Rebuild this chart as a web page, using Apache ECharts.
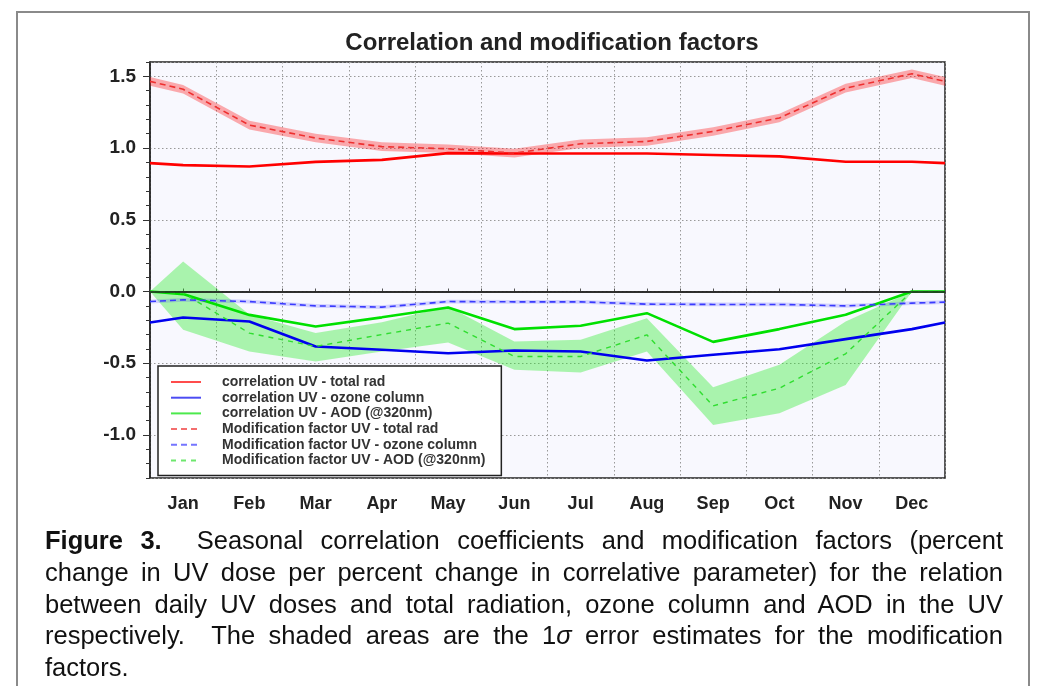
<!DOCTYPE html>
<html>
<head>
<meta charset="utf-8">
<script src="https://cdn.jsdelivr.net/npm/echarts@6.0.0/dist/echarts.min.js"></script>
<style>
  html, body { margin: 0; padding: 0; background: #fff; }
  #wrap { position: relative; width: 1044px; height: 686px; overflow: hidden; }
  #frame { position: absolute; left: 16px; top: 11px; width: 1014px; height: 720px;
           border: 2px solid #8a8a8a; box-sizing: border-box; }
  #chart { position: absolute; left: 0; top: 0; width: 1044px; height: 686px; }
  #cap { position: absolute; left: 45px; top: 525px; width: 958px; color: #111;
         font-family: "Liberation Sans", Arial, Helvetica, sans-serif; font-size: 25.5px; }
  #cap .ln { height: 31.8px; line-height: 31.8px; white-space: nowrap; }
  #cap .j { text-align: justify; text-align-last: justify; }
</style>
</head>
<body>
<div id="wrap">
  <div id="frame"></div>
  <div id="chart"></div>
  <div id="cap">
    <div class="ln j"><b>Figure 3.</b>&nbsp; Seasonal correlation coefficients and modification factors (percent</div>
    <div class="ln j">change in UV dose per percent change in correlative parameter) for the relation</div>
    <div class="ln j">between daily UV doses and total radiation, ozone column and AOD in the UV</div>
    <div class="ln j">respectively.&nbsp; The shaded areas are the 1<i>σ</i> error estimates for the modification</div>
    <div class="ln">factors.</div>
  </div>
</div>
<script>
// ---- data ----
const months = ['Jan','Feb','Mar','Apr','May','Jun','Jul','Aug','Sep','Oct','Nov','Dec'];
// month positions; the plot edges (0.5 and 12.5) carry the wrap-around values
const monthPos = [0.5, 1, 2, 3, 4, 5, 6, 7, 8, 9, 10, 11, 12, 12.5];

const corrTotalRad = [0.895, 0.881, 0.872, 0.904, 0.918, 0.965, 0.962, 0.962, 0.962, 0.952, 0.942, 0.905, 0.905, 0.895];
const corrOzone    = [-0.216, -0.181, -0.209, -0.383, -0.406, -0.430, -0.411, -0.418, -0.481, -0.441, -0.402, -0.332, -0.262, -0.216];
const corrAOD      = [0.000, -0.018, -0.163, -0.244, -0.180, -0.111, -0.262, -0.239, -0.151, -0.351, -0.262, -0.162, 0.000, 0.000];

const modTotalRad  = [1.465, 1.410, 1.160, 1.070, 1.010, 0.995, 0.965, 1.030, 1.046, 1.116, 1.210, 1.418, 1.518, 1.465];
const modOzone     = [-0.070, -0.058, -0.070, -0.100, -0.109, -0.070, -0.072, -0.072, -0.088, -0.090, -0.090, -0.100, -0.081, -0.074];
const modAOD       = [0.000, -0.011, -0.290, -0.383, -0.300, -0.220, -0.453, -0.453, -0.302, -0.797, -0.674, -0.434, 0.000, 0.000];

// 1-sigma error estimates
const errTotalRad  = [0.030, 0.030, 0.030, 0.030, 0.030, 0.030, 0.030, 0.030, 0.030, 0.030, 0.030, 0.030, 0.030, 0.030];
const errOzone     = [0.013, 0.013, 0.013, 0.013, 0.013, 0.013, 0.013, 0.013, 0.013, 0.013, 0.013, 0.013, 0.013, 0.013];
const aodUpper     = [0.000, 0.209, -0.160, -0.290, -0.215, -0.105, -0.349, -0.337, -0.186, -0.667, -0.511, -0.209, 0.000, 0.000];
const aodLower     = [0.000, -0.267, -0.418, -0.488, -0.418, -0.356, -0.546, -0.565, -0.418, -0.930, -0.848, -0.651, 0.000, 0.000];

const yTicks = [-1.0, -0.5, 0.0, 0.5, 1.0, 1.5];

// ---- helpers ----
const pairs = arr => monthPos.map((x, i) => [x, arr[i]]);

// shaded error band: one polygon drawn through the chart's own coordinate system
function bandSeries(lower, upper, color) {
  return {
    type: 'custom', silent: true, z: 1, clip: true,
    data: monthPos.map((x, i) => [x, lower[i], upper[i]]),
    encode: { x: 0, y: [1, 2] },
    renderItem: (params, api) => {
      if (params.dataIndex !== 0) return null;
      const top = monthPos.map((x, i) => api.coord([x, upper[i]]));
      const bot = monthPos.map((x, i) => api.coord([x, lower[i]])).reverse();
      return { type: 'polygon', shape: { points: top.concat(bot) }, style: { fill: color } };
    }
  };
}

const font = '"Liberation Sans", Arial, Helvetica, sans-serif';

const series = [
  bandSeries(aodLower, aodUpper, 'rgba(30,235,30,0.36)'),
  bandSeries(modTotalRad.map((v, i) => v - errTotalRad[i]), modTotalRad.map((v, i) => v + errTotalRad[i]), 'rgba(255,20,20,0.35)'),
  bandSeries(modOzone.map((v, i) => v - errOzone[i]), modOzone.map((v, i) => v + errOzone[i]), 'rgba(60,60,255,0.2)'),
  { name: 'zero', type: 'line', data: [], z: 2, silent: true,
    markLine: { silent: true, symbol: ['none', 'none'], label: { show: false },
      lineStyle: { color: '#222', width: 1.6, type: 'solid' }, data: [{ yAxis: 0 }] } },
  { name: 'correlation UV - total rad', type: 'line', symbol: 'none', z: 3,
    data: pairs(corrTotalRad), lineStyle: { color: '#ff0000', width: 2.6 }, itemStyle: { color: '#ff0000' } },
  { name: 'correlation UV - ozone column', type: 'line', symbol: 'none', z: 3,
    data: pairs(corrOzone), lineStyle: { color: '#0000ee', width: 2.6 }, itemStyle: { color: '#0000ee' } },
  { name: 'correlation UV - AOD (@320nm)', type: 'line', symbol: 'none', z: 3,
    data: pairs(corrAOD), lineStyle: { color: '#00e000', width: 2.6 }, itemStyle: { color: '#00e000' } },
  { name: 'Modification factor UV - total rad', type: 'line', symbol: 'none', z: 3,
    data: pairs(modTotalRad), lineStyle: { color: '#ee3030', width: 1.6, type: [6, 4] }, itemStyle: { color: '#ee3030' } },
  { name: 'Modification factor UV - ozone column', type: 'line', symbol: 'none', z: 3,
    data: pairs(modOzone), lineStyle: { color: '#3a3aff', width: 1.6, type: [6, 4] }, itemStyle: { color: '#3a3aff' } },
  { name: 'Modification factor UV - AOD (@320nm)', type: 'line', symbol: 'none', z: 3,
    data: pairs(modAOD), lineStyle: { color: '#30dd30', width: 1.4, type: [5, 5] }, itemStyle: { color: '#30dd30' } }
];

const chart = echarts.init(document.getElementById('chart'), null, { renderer: 'canvas' });
chart.setOption({
  animation: false,
  backgroundColor: 'transparent',
  title: {
    text: 'Correlation and modification factors',
    left: 547, top: 26, textAlign: 'center',
    textStyle: { fontFamily: font, fontSize: 24, fontWeight: 'bold', color: '#222' }
  },
  grid: { left: 150, right: 99, top: 62, bottom: 208, show: true,
          backgroundColor: '#f8f8fe', borderColor: '#222', borderWidth: 1.5 },
  legend: {
    data: ['correlation UV - total rad', 'correlation UV - ozone column', 'correlation UV - AOD (@320nm)',
           'Modification factor UV - total rad', 'Modification factor UV - ozone column', 'Modification factor UV - AOD (@320nm)'],
    orient: 'vertical', left: 158, top: 366,
    padding: [9, 16, 8, 12],
    backgroundColor: '#ffffff', borderColor: '#222', borderWidth: 1.5, borderRadius: 0,
    itemWidth: 30, itemHeight: 12, itemGap: 1.7,
    itemStyle: { opacity: 0 },
    lineStyle: { opacity: 0.7 },
    textStyle: { fontFamily: font, fontSize: 14, fontWeight: 'bold', color: '#333', lineHeight: 14, padding: [0, 0, 0, 16] },
    selectedMode: false
  },
  xAxis: [
    { type: 'value', min: 0.5, max: 12.5, splitNumber: 12, minInterval: 1, maxInterval: 1,
      axisLine: { show: true, lineStyle: { color: '#222', width: 1.5 } },
      axisTick: { show: true, inside: true, length: 3, lineStyle: { color: '#555' } },
      splitLine: { show: false },
      axisLabel: { margin: 17, fontFamily: font, fontSize: 18, fontWeight: 'bold', color: '#222',
                   showMinLabel: false, showMaxLabel: false,
                   formatter: v => (Number.isInteger(v) && v >= 1 && v <= 12) ? months[v - 1] : '' } },
    { type: 'value', min: 0.5, max: 12.5, interval: 1, position: 'bottom',
      axisLine: { show: false }, axisLabel: { show: false },
      axisTick: { show: true, inside: true, length: 3, lineStyle: { color: '#555' } },
      splitLine: { show: true, lineStyle: { color: '#999', width: 1, type: [1.5, 2.5] } } }
  ],
  yAxis: [
    { type: 'value', min: -1.3, max: 1.6, splitNumber: 5, minInterval: 0.5, maxInterval: 0.5,
      axisLine: { show: true, lineStyle: { color: '#222', width: 1.5 } },
      axisTick: { show: true, length: 7, lineStyle: { color: '#333', width: 1 } },
      splitLine: { show: true, lineStyle: { color: '#999', width: 1, type: [1.5, 2.5] } },
      axisLabel: { margin: 14, fontFamily: font, fontSize: 19, fontWeight: 'bold', color: '#222',
                   showMinLabel: false, showMaxLabel: false,
                   formatter: v => yTicks.some(t => Math.abs(t - v) < 1e-6) ? v.toFixed(1) : '' } },
    { type: 'value', min: -1.3, max: 1.6, interval: 0.1, position: 'left',
      axisLine: { show: false }, axisLabel: { show: false }, splitLine: { show: false },
      axisTick: { show: true, length: 4, lineStyle: { color: '#333', width: 1 } } }
  ],
  series: series
});
</script>
</body>
</html>
